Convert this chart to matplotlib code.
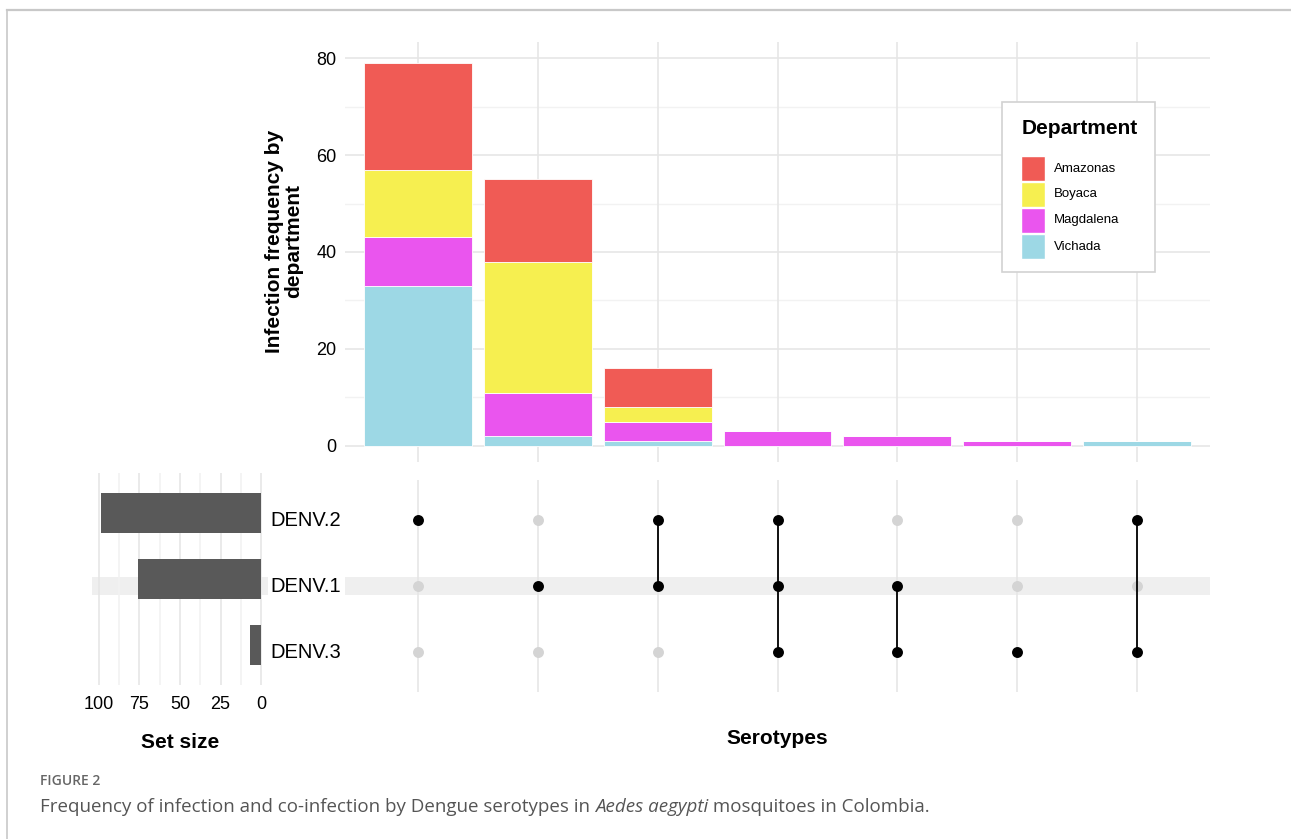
import matplotlib
matplotlib.use("Agg")
import matplotlib.pyplot as plt
from matplotlib.patches import Rectangle
from matplotlib.lines import Line2D
import numpy as np

plt.rcParams['font.family'] = ['Liberation Sans', 'DejaVu Sans']

# ---- data -------------------------------------------------------------
sets = ["DENV.3", "DENV.1", "DENV.2"]          # bottom -> top rows
departments = ["Vichada", "Magdalena", "Boyaca", "Amazonas"]   # stack order
dept_colors = {"Amazonas": "#F05B55", "Boyaca": "#F6EF50",
               "Magdalena": "#EA55EE", "Vichada": "#9DD8E5"}

# intersections, left to right (membership per set)
intersections = [
    ["DENV.2"],
    ["DENV.1"],
    ["DENV.2", "DENV.1"],
    ["DENV.2", "DENV.1", "DENV.3"],
    ["DENV.1", "DENV.3"],
    ["DENV.3"],
    ["DENV.2", "DENV.3"],
]
vichada   = [33, 2, 1, 0, 0, 0, 1]
magdalena = [10, 9, 4, 3, 2, 1, 0]
boyaca    = [14, 27, 3, 0, 0, 0, 0]
amazonas  = [22, 17, 8, 0, 0, 0, 0]
counts = {"Vichada": vichada, "Magdalena": magdalena,
          "Boyaca": boyaca, "Amazonas": amazonas}

set_sizes = {"DENV.2": 99, "DENV.1": 76, "DENV.3": 7}

# ---- layout helpers -----------------------------------------------------
W, H = 1291, 839
fig = plt.figure(figsize=(W / 100, H / 100), dpi=100)

def px_axes(left, top, right, bottom, **kw):
    return fig.add_axes([left / W, 1 - bottom / H, (right - left) / W,
                         (bottom - top) / H], **kw)

def clean(ax):
    for s in ax.spines.values():
        s.set_visible(False)
    ax.tick_params(length=0)

GRID = "#e6e6e6"
GRID_MINOR = "#f2f2f2"
n = len(intersections)
xpos = np.arange(1, n + 1)

# ---- intersection size bars ---------------------------------------------
ax_bar = px_axes(345, 42, 1210, 462)
clean(ax_bar)
ax_bar.set_xlim(0.39, n + 0.61)
ax_bar.set_ylim(-3.3, 83.3)
for v in [10, 30, 50, 70]:
    ax_bar.axhline(v, color=GRID_MINOR, lw=1.0, zorder=0)
for v in [0, 20, 40, 60, 80]:
    ax_bar.axhline(v, color=GRID, lw=1.2, zorder=0)
for x in xpos:
    ax_bar.axvline(x, color=GRID, lw=1.2, zorder=0)
bottom = np.zeros(n)
for d in departments:
    vals = np.array(counts[d], dtype=float)
    ax_bar.bar(xpos, vals, width=0.9, bottom=bottom, color=dept_colors[d],
               edgecolor="white", linewidth=0.6, zorder=2)
    bottom += vals
ax_bar.set_xticks([])
ax_bar.set_yticks([0, 20, 40, 60, 80])
ax_bar.set_yticklabels(["0", "20", "40", "60", "80"], fontsize=13)
ax_bar.tick_params(axis="y", pad=6)
ax_bar.set_ylabel("Infection frequency by\ndepartment", fontsize=15,
                  fontweight="bold", linespacing=1.02)
ax_bar.yaxis.set_label_coords(-0.048, 0.525)

# ---- matrix panel ---------------------------------------------------------
ax_mat = px_axes(345, 480, 1210, 692)
clean(ax_mat)
ax_mat.set_xlim(0.39, n + 0.61)
ax_mat.set_ylim(-0.6, 2.6)
ax_mat.axhspan(1 - 0.13, 1 + 0.13, color="#efefef", zorder=0, lw=0)
for x in xpos:
    ax_mat.axvline(x, color=GRID, lw=1.2, zorder=0)
for i, members in enumerate(intersections):
    x = xpos[i]
    rows = [sets.index(s) for s in members]
    off = [r for r in range(len(sets)) if r not in rows]
    ax_mat.scatter([x] * len(off), off, s=62, color="#d4d4d4", zorder=2,
                   linewidths=0)
    if len(rows) > 1:
        ax_mat.plot([x, x], [min(rows), max(rows)], color="black", lw=1.3,
                    zorder=3)
    ax_mat.scatter([x] * len(rows), rows, s=62, color="black", zorder=4,
                   linewidths=0)
ax_mat.set_xticks([])
ax_mat.set_yticks([])
ax_mat.set_xlabel("Serotypes", fontsize=15, fontweight="bold", labelpad=27)

# set labels between the two panels
for r, name in enumerate(sets):
    y_px = 652 - 66 * r
    fig.text(270 / W, 1 - y_px / H, name, fontsize=14.5, ha="left",
             va="center")

# ---- set size panel -------------------------------------------------------
ax_set = px_axes(92, 473, 268, 685)
clean(ax_set)
ax_set.set_xlim(104.3, -4.3)
ax_set.set_ylim(-0.6, 2.6)
ax_set.axhspan(0.755, 1.03, color="#efefef", zorder=0, lw=0)
for v in [87.5, 62.5, 37.5, 12.5]:
    ax_set.axvline(v, color=GRID_MINOR, lw=1.2, zorder=0)
for v in [100, 75, 50, 25, 0]:
    ax_set.axvline(v, color=GRID, lw=1.2, zorder=0)
ax_set.barh([sets.index(s) for s in sets], [set_sizes[s] for s in sets],
            height=0.6, color="#595959", zorder=2)
ax_set.set_yticks([])
ax_set.set_xticks([100, 75, 50, 25, 0])
ax_set.set_xticklabels(["100", "75", "50", "25", "0"], fontsize=13)
ax_set.tick_params(axis="x", pad=8)
ax_set.set_xlabel("Set size", fontsize=15, fontweight="bold", labelpad=14)

# ---- legend ---------------------------------------------------------------
ax_leg = px_axes(0, 0, W, H)
ax_leg.set_xlim(0, W)
ax_leg.set_ylim(H, 0)
ax_leg.axis("off")
ax_leg.add_patch(Rectangle((1002, 102), 153, 170, facecolor="white",
                           edgecolor="#d2d2d2", lw=1.2))
ax_leg.text(1022, 129, "Department", fontsize=15, fontweight="bold",
            ha="left", va="center")
for k, d in enumerate(["Amazonas", "Boyaca", "Magdalena", "Vichada"]):
    y0 = 156 + 26 * k
    ax_leg.add_patch(Rectangle((1021, y0), 24, 25, facecolor=dept_colors[d],
                               edgecolor="white", lw=1.0))
    ax_leg.text(1054, y0 + 12.5, d, fontsize=9.5, ha="left", va="center")

# ---- frame and caption ----------------------------------------------------
ax_leg.add_line(Line2D([7, W], [10, 10], color="#c8c8c8", lw=1.6))
ax_leg.add_line(Line2D([7, 7], [10, H], color="#c8c8c8", lw=1.2))
cap_font = ["Open Sans", "DejaVu Sans"]
ax_leg.text(40, 781, "FIGURE 2", fontsize=10, color="#666666",
            family=cap_font, fontweight="semibold", ha="left", va="center")

# caption line built from pieces so the species name can be italic
renderer = fig.canvas.get_renderer()
pieces = [("Frequency of infection and co-infection by Dengue serotypes in ",
           "normal"),
          ("Aedes aegypti", "italic"),
          (" mosquitoes in Colombia.", "normal")]
x_cursor = 40.0
for txt, style in pieces:
    t = ax_leg.text(x_cursor, 812, txt, fontsize=13.5, color="#555555",
                    family=cap_font, style=style, ha="left",
                    va="baseline")
    bb = t.get_window_extent(renderer=renderer)
    x_cursor += bb.width

fig.savefig("out.png", dpi=100, facecolor="white")
